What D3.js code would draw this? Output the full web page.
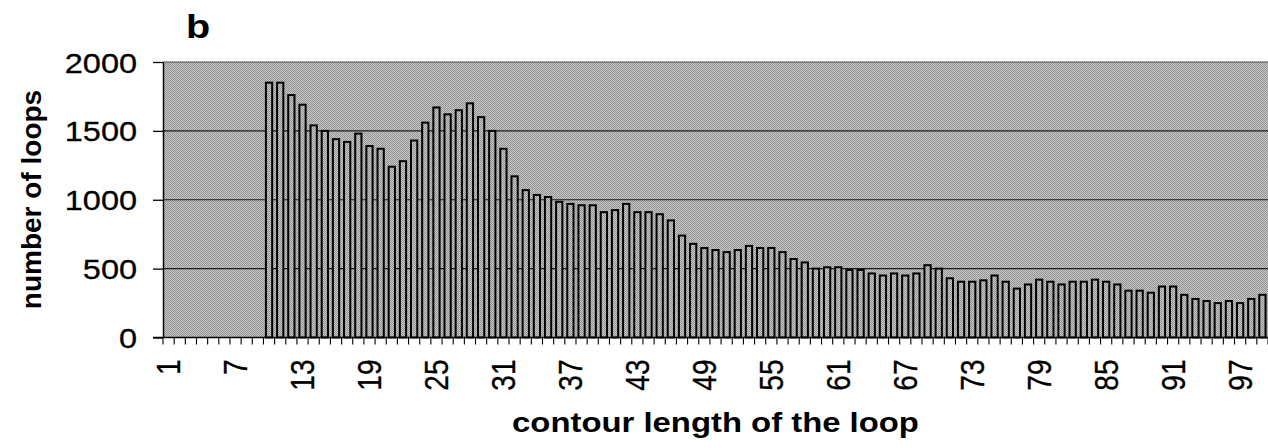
<!DOCTYPE html>
<html>
<head>
<meta charset="utf-8">
<script src="https://cdn.jsdelivr.net/npm/d3@7"></script>
<style>
  body { margin: 0; background: #fff; }
  svg { display: block; }
  text { font-family: "Liberation Sans", Arial, Helvetica, sans-serif; fill: #000; }
</style>
</head>
<body>
<svg id="chart" width="1268" height="448"></svg>
<script>
// Contour lengths of the loop (categories on the x axis)
const categories = d3.range(1, 100);
// First contour length that has any loops
const firstLength = 10;
// Number of loops for contour lengths 10 … 99
const loopCounts = [
  1850, 1850, 1760, 1690, 1540, 1500, 1440, 1420, 1480, 1390,
  1370, 1240, 1280, 1430, 1560, 1670, 1620, 1650, 1700, 1600,
  1500, 1370, 1170, 1070, 1035, 1020, 985, 970, 960, 960,
  910, 925, 970, 910, 910, 895, 850, 740, 680, 650,
  635, 620, 635, 665, 650, 650, 620, 570, 545, 500,
  510, 510, 490, 490, 465, 450, 465, 450, 465, 525,
  500, 430, 405, 405, 415, 450, 405, 355, 385, 420,
  405, 385, 405, 405, 420, 405, 385, 340, 340, 325,
  370, 370, 310, 280, 265, 250, 265, 250, 280, 310
];
const xTickLabels = [1, 7, 13, 19, 25, 31, 37, 43, 49, 55, 61, 67, 73, 79, 85, 91, 97];
const yTicks = [0, 500, 1000, 1500, 2000];
const gridValues = [500, 1000, 1500];

const bars = loopCounts.map((count, i) => ({ length: firstLength + i, count }));

const svg = d3.select("#chart");
const plot = { left: 163, right: 1268, top: 62, bottom: 337.5 };

const x = d3.scaleBand()
  .domain(categories)
  .range([plot.left, plot.right])
  .paddingInner(0.44)
  .paddingOuter(0.22);

const y = d3.scaleLinear()
  .domain([0, 2000])
  .range([plot.bottom, plot.top]);

// Stippled grey fill used for the plot area and the bars
const defs = svg.append("defs");
const pat = defs.append("pattern")
  .attr("id", "stipple")
  .attr("width", 2).attr("height", 2)
  .attr("patternUnits", "userSpaceOnUse");
pat.append("rect").attr("width", 2).attr("height", 2).attr("fill", "#c8c8c8");
pat.append("rect").attr("width", 1).attr("height", 1).attr("fill", "#929292");
pat.append("rect").attr("x", 1).attr("y", 1).attr("width", 1).attr("height", 1).attr("fill", "#929292");

// Plot area background
svg.append("rect")
  .attr("x", plot.left).attr("y", plot.top)
  .attr("width", plot.right - plot.left)
  .attr("height", plot.bottom - plot.top)
  .attr("fill", "url(#stipple)");

// Top border of the plot area
svg.append("line")
  .attr("x1", plot.left).attr("x2", plot.right)
  .attr("y1", y(2000)).attr("y2", y(2000))
  .attr("stroke", "#444").attr("stroke-width", 1.2);

// Horizontal gridlines
svg.append("g")
  .selectAll("line")
  .data(gridValues)
  .join("line")
  .attr("x1", plot.left).attr("x2", plot.right)
  .attr("y1", d => y(d)).attr("y2", d => y(d))
  .attr("stroke", "#1a1a1a").attr("stroke-width", 1.2);

// Bars
svg.append("g")
  .selectAll("rect")
  .data(bars)
  .join("rect")
  .attr("x", d => x(d.length))
  .attr("y", d => y(d.count))
  .attr("width", x.bandwidth())
  .attr("height", d => y(0) - y(d.count))
  .attr("fill", "url(#stipple)")
  .attr("stroke", "#000")
  .attr("stroke-width", 2);

// Y axis
const yAxis = d3.axisLeft(y)
  .tickValues(yTicks)
  .tickSize(10)
  .tickSizeOuter(0)
  .tickPadding(0)
  .tickFormat(d3.format("d"));
const gy = svg.append("g")
  .attr("transform", `translate(${plot.left},0)`)
  .call(yAxis);
gy.attr("font-family", null).attr("font-size", null);
gy.select(".domain").attr("stroke", "#000").attr("stroke-width", 1.5);
gy.selectAll(".tick line").attr("stroke", "#000").attr("stroke-width", 1.3);
gy.selectAll(".tick text")
  .attr("x", null)
  .attr("dy", "0.36em")
  .attr("transform", "translate(-26,0) scale(1.16,1)")
  .style("font-size", "28px")
  .style("stroke", "#000")
  .style("stroke-width", 0.3);

// Bottom axis line
svg.append("line")
  .attr("x1", plot.left - 10).attr("x2", plot.right)
  .attr("y1", plot.bottom).attr("y2", plot.bottom)
  .attr("stroke", "#000").attr("stroke-width", 1.5);

// Tick marks between categories
const boundaries = categories.map(c => x(c) - x.step() * x.paddingInner() / 2).concat([plot.right]);
svg.append("g")
  .selectAll("line")
  .data(boundaries)
  .join("line")
  .attr("x1", d => d).attr("x2", d => d)
  .attr("y1", plot.bottom).attr("y2", plot.bottom + 7)
  .attr("stroke", "#000").attr("stroke-width", 1.1);

// X tick labels (rotated)
const xAxis = d3.axisBottom(x)
  .tickValues(xTickLabels)
  .tickSize(0)
  .tickPadding(0);
const gx = svg.append("g")
  .attr("transform", `translate(0,${plot.bottom})`)
  .call(xAxis);
gx.attr("font-family", null).attr("font-size", null);
gx.select(".domain").remove();
gx.selectAll(".tick text")
  .attr("y", null)
  .attr("dy", "0.36em")
  .attr("text-anchor", "end")
  .attr("transform", "translate(0,22) scale(1.16,1) rotate(-90)")
  .style("font-size", "28px")
  .style("stroke", "#000")
  .style("stroke-width", 0.3);

// Panel letter
svg.append("text")
  .attr("transform", "translate(186,38) scale(1.2,1)")
  .style("font-size", "33px")
  .style("font-weight", "bold")
  .text("b");

// Y axis title
svg.append("text")
  .attr("transform", "translate(41,199.5) rotate(-90)")
  .attr("text-anchor", "middle")
  .style("font-size", "28px")
  .style("font-weight", "bold")
  .text("number of loops");

// X axis title
const xTitle = svg.append("text")
  .attr("text-anchor", "middle")
  .style("font-size", "28px")
  .style("font-weight", "bold")
  .text("contour length of the loop");
const titleLen = xTitle.node().getComputedTextLength();
const sx = 407 / titleLen;
xTitle.attr("transform", `translate(${(plot.left + plot.right) / 2},432) scale(${sx},1)`);
</script>
</body>
</html>
